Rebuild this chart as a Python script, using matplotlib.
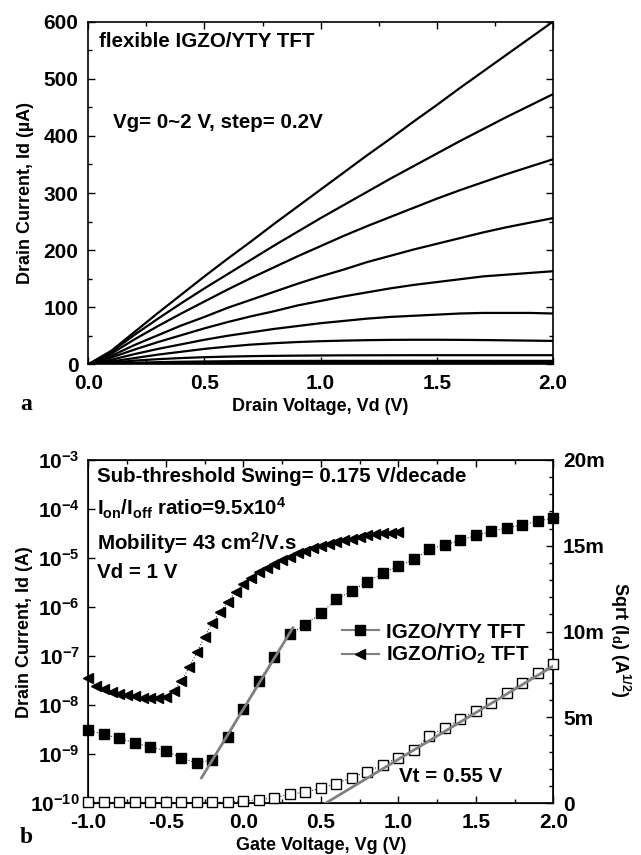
import numpy as np
import matplotlib
matplotlib.use("Agg")
import matplotlib.pyplot as plt
from matplotlib.lines import Line2D
from matplotlib.ticker import MultipleLocator, FuncFormatter, LogLocator

plt.rcParams['font.family'] = ['Liberation Sans', 'DejaVu Sans']
plt.rcParams['font.weight'] = 'bold'
plt.rcParams['mathtext.fontset'] = 'custom'
plt.rcParams['mathtext.rm'] = 'Liberation Sans:bold'
plt.rcParams['mathtext.it'] = 'Liberation Sans:bold'
plt.rcParams['mathtext.bf'] = 'Liberation Sans:bold'
plt.rcParams['mathtext.default'] = 'rm'

# ---- panel a: output curves, Vg = 0..2 V step 0.2 V (uA) ----
vd = [0.0, 0.1, 0.2, 0.3, 0.4, 0.5, 0.6, 0.7, 0.8, 0.9, 1.0,
      1.1, 1.2, 1.3, 1.4, 1.5, 1.6, 1.7, 1.8, 1.9, 2.0]
id_vg20 = [0, 24, 57, 90, 122, 154, 185, 215, 246, 276, 306,
           336, 366, 395, 425, 454, 484, 513, 542, 571, 600]
id_vg18 = [0, 22, 52, 80, 107, 133, 158, 183, 208, 232, 256,
           279, 302, 325, 347, 369, 391, 412, 433, 453, 473]
id_vg16 = [0, 19, 44, 67, 89, 110, 131, 151, 170, 189, 207,
           225, 242, 258, 274, 290, 305, 319, 333, 346, 359]
id_vg14 = [0, 15, 34, 51, 68, 83, 99, 113, 127, 141, 154,
           166, 179, 190, 201, 211, 221, 231, 240, 248, 256]
id_vg12 = [0, 12, 26, 39, 51, 63, 74, 84, 93, 103, 111,
           119, 126, 133, 139, 144, 149, 154, 157, 160, 163]
id_vg10 = [0, 8, 18, 27, 35, 43, 50, 56, 62, 67, 72,
           76, 80, 83, 85, 87, 89, 90, 90, 90, 89]
id_vg08 = [0, 5, 11, 17, 22, 27, 31, 34.5, 37, 39, 40.5,
           41.5, 42.3, 42.8, 43, 43, 42.8, 42.5, 42, 41.5, 41]
id_vg06 = [0, 3, 6.5, 9, 11, 12.5, 13.5, 14.3, 14.8, 15.2, 15.5,
           15.7, 15.8, 15.9, 16, 16, 16, 16, 16, 16, 16]
id_vg04 = [0, 1.3, 2.8, 3.8, 4.5, 5, 5.4, 5.7, 5.8, 5.9, 6,
           6, 6, 6, 6, 6, 6, 6, 6, 6, 6]
id_vg02 = [0, 0.6, 1.3, 1.8, 2.2, 2.5, 2.6, 2.7, 2.8, 2.8, 2.8,
           2.8, 2.8, 2.8, 2.8, 2.8, 2.8, 2.8, 2.8, 2.8, 2.8]
id_vg00 = [0, 0.1, 0.2, 0.3, 0.4, 0.5, 0.5, 0.5, 0.5, 0.5, 0.5,
           0.5, 0.5, 0.5, 0.5, 0.5, 0.5, 0.5, 0.5, 0.5, 0.5]
output_curves = [id_vg00, id_vg02, id_vg04, id_vg06, id_vg08, id_vg10,
                 id_vg12, id_vg14, id_vg16, id_vg18, id_vg20]

# ---- panel b: transfer curves ----
vg_yty = [-1.0, -0.9, -0.8, -0.7, -0.6, -0.5, -0.4, -0.3, -0.2, -0.1, 0.0,
          0.1, 0.2, 0.3, 0.4, 0.5, 0.6, 0.7, 0.8, 0.9, 1.0,
          1.1, 1.2, 1.3, 1.4, 1.5, 1.6, 1.7, 1.8, 1.9, 2.0]
id_yty = [3.1e-9, 2.55e-9, 2.1e-9, 1.7e-9, 1.4e-9, 1.18e-9, 8.3e-10, 6.6e-10, 7.7e-10, 2.2e-9, 8.5e-9,
          3.1e-8, 9.8e-8, 2.8e-7, 4.4e-7, 7.5e-7, 1.43e-6, 2.15e-6, 3.3e-6, 4.9e-6, 6.9e-6,
          9.4e-6, 1.5e-5, 1.88e-5, 2.3e-5, 2.9e-5, 3.5e-5, 4.1e-5, 4.8e-5, 5.6e-5, 6.6e-5]
sqrt_yty = [0.00008, 0.00005, 0.00005, 0.00005, 0.00005, 0.00005, 0.00005, 0.00005, 0.00005, 0.00008, 0.00014,
            0.0002, 0.00033, 0.00052, 0.00066, 0.00087, 0.00115, 0.0015, 0.00185, 0.00223, 0.00266,
            0.0031, 0.00394, 0.0044, 0.0049, 0.00538, 0.00586, 0.00645, 0.00703, 0.00757, 0.00812]

vg_tio2 = [-1.0, -0.95, -0.9, -0.85, -0.8, -0.75, -0.7, -0.65, -0.6, -0.55, -0.5,
           -0.45, -0.4, -0.35, -0.3, -0.25, -0.2, -0.15, -0.1, -0.05, 0.0,
           0.05, 0.1, 0.15, 0.2, 0.25, 0.3, 0.35, 0.4, 0.45, 0.5,
           0.55, 0.6, 0.65, 0.7, 0.75, 0.8, 0.85, 0.9, 0.95, 1.0]
id_tio2 = [3.6e-8, 2.45e-8, 2.1e-8, 1.87e-8, 1.73e-8, 1.65e-8, 1.53e-8, 1.43e-8, 1.37e-8, 1.37e-8, 1.48e-8,
           1.96e-8, 3.1e-8, 5.9e-8, 1.19e-7, 2.5e-7, 4.8e-7, 8.0e-7, 1.29e-6, 2.06e-6, 2.95e-6,
           4.0e-6, 5.3e-6, 6.2e-6, 7.5e-6, 9.1e-6, 1.06e-5, 1.25e-5, 1.39e-5, 1.57e-5, 1.76e-5,
           1.93e-5, 2.15e-5, 2.33e-5, 2.5e-5, 2.72e-5, 2.95e-5, 3.1e-5, 3.2e-5, 3.3e-5, 3.4e-5]

# fitted lines
ss_fit_x = [-0.27, 0.32]
ss_fit_y = [3.3e-10, 3.8e-7]
vt_fit_x = [0.53, 2.0]
vt_fit_y = [0.0, 0.0080]

fig = plt.figure(figsize=(6.41, 8.55), dpi=100)
ax1 = fig.add_axes([0.1378, 0.5739, 0.7247, 0.4007])
ax2 = fig.add_axes([0.1378, 0.0605, 0.7254, 0.4015])

tickfs = 15
textfs = 14.8
labfs = 13

# panel a
for cur in output_curves:
    ax1.plot(vd, cur, color='black', lw=1.6)
ax1.set_xlim(0, 2.0)
ax1.set_ylim(0, 600)
ax1.xaxis.set_major_locator(MultipleLocator(0.5))
ax1.xaxis.set_minor_locator(MultipleLocator(0.25))
ax1.yaxis.set_major_locator(MultipleLocator(100))
ax1.yaxis.set_minor_locator(MultipleLocator(50))
ax1.tick_params(which='both', direction='in', top=True, right=True, labelsize=tickfs, width=1)
ax1.tick_params(which='major', length=5)
ax1.tick_params(which='minor', length=3)
ax1.tick_params(axis='x', pad=7)
ax1.tick_params(axis='y', pad=7)
ax1.xaxis.set_major_formatter(FuncFormatter(lambda v, p: '%.1f' % v))
ax1.set_xlabel('Drain Voltage, Vd (V)', fontsize=labfs, fontweight='bold')
ax1.set_ylabel('Drain Current, Id (\u00b5A)', fontsize=labfs, fontweight='bold')
ax1.xaxis.set_label_coords(0.5, -0.098)
ax1.yaxis.set_label_coords(-0.118, 0.5)
ax1.text(0.022, 0.927, 'flexible IGZO/YTY TFT', transform=ax1.transAxes,
         fontsize=textfs, fontweight='bold')
ax1.text(0.053, 0.69, 'Vg= 0~2 V, step= 0.2V', transform=ax1.transAxes,
         fontsize=textfs, fontweight='bold')
for sp in ax1.spines.values():
    sp.set_linewidth(1.2)

# panel b, left log axis
ax2.plot(vg_yty, id_yty, color='black', ls=(0, (1, 2)), lw=0.7,
         marker='s', ms=7.5, mfc='black', mec='black', clip_on=False, zorder=3)
ax2.plot(vg_tio2, id_tio2, color='black', ls=(0, (1, 2)), lw=0.7,
         marker='<', ms=7, mfc='black', mec='black', clip_on=False, zorder=3)
ax2.plot(ss_fit_x, ss_fit_y, color='#808080', lw=2, zorder=4)
ax2.set_yscale('log')
ax2.set_xlim(-1.0, 2.0)
ax2.set_ylim(1e-10, 1e-3)
ax2.yaxis.set_major_locator(LogLocator(base=10, numticks=10))
ax2.yaxis.set_minor_locator(LogLocator(base=10, subs=[], numticks=10))
ax2.xaxis.set_major_locator(MultipleLocator(0.5))
ax2.xaxis.set_minor_locator(MultipleLocator(0.25))
ax2.xaxis.set_major_formatter(FuncFormatter(lambda v, p: '%.1f' % v))
ax2.tick_params(which='both', direction='in', top=True, labelsize=tickfs, width=1)
ax2.tick_params(which='major', length=5)
ax2.tick_params(which='minor', length=3)
ax2.tick_params(axis='x', pad=7)
ax2.tick_params(axis='y', pad=6)
ax2.set_xlabel('Gate Voltage, Vg (V)', fontsize=labfs, fontweight='bold')
ax2.set_ylabel('Drain Current, Id (A)', fontsize=labfs, fontweight='bold')
ax2.xaxis.set_label_coords(0.5, -0.098)
ax2.yaxis.set_label_coords(-0.118, 0.5)
for sp in ax2.spines.values():
    sp.set_linewidth(1.2)

# right sqrt axis
ax3 = ax2.twinx()
ax3.plot(vg_yty, sqrt_yty, color='black', ls=(0, (1, 2)), lw=0.7,
         marker='s', ms=7, mfc='white', mec='black', mew=1, clip_on=False, zorder=3)
ax3.plot(vt_fit_x, vt_fit_y, color='#808080', lw=2, zorder=4)
ax3.set_ylim(0, 0.02)
ax3.yaxis.set_major_locator(MultipleLocator(0.005))
ax3.yaxis.set_minor_locator(MultipleLocator(0.001))
ax3.yaxis.set_major_formatter(FuncFormatter(lambda v, p: '0' if v == 0 else '%dm' % round(v * 1000)))
ax3.tick_params(which='both', direction='in', labelsize=tickfs, width=1, pad=7)
ax3.tick_params(which='major', length=5)
ax3.tick_params(which='minor', length=3)
ax3.set_ylabel('Sqrt (I$_d$) (A$^{1/2}$)', fontsize=labfs, fontweight='bold', rotation=270)
ax3.yaxis.set_label_coords(1.17, 0.476)

ax2.text(0.019, 0.937, 'Sub-threshold Swing= 0.175 V/decade', transform=ax2.transAxes,
         fontsize=textfs, fontweight='bold')
ax2.text(0.019, 0.837, 'I$_{on}$/I$_{off}$ ratio=9.5x10$^4$', transform=ax2.transAxes,
         fontsize=textfs, fontweight='bold')
ax2.text(0.019, 0.738, 'Mobility= 43 cm$^2$/V.s', transform=ax2.transAxes,
         fontsize=textfs, fontweight='bold')
ax2.text(0.019, 0.655, 'Vd = 1 V', transform=ax2.transAxes,
         fontsize=textfs, fontweight='bold')
ax3.text(0.669, 0.063, 'Vt = 0.55 V', transform=ax2.transAxes,
         fontsize=textfs, fontweight='bold')

handles = [Line2D([], [], color='#808080', lw=1.5, marker='s', ms=7.5, mfc='black', mec='black'),
           Line2D([], [], color='#808080', lw=1.5, marker='<', ms=7, mfc='black', mec='black')]
ax3.legend(handles, ['IGZO/YTY TFT', 'IGZO/TiO$_2$ TFT'], loc='upper left',
           bbox_to_anchor=(0.505, 0.58), frameon=False, handlelength=1.8,
           handletextpad=0.35, labelspacing=0.1, prop={'size': textfs, 'weight': 'bold'})

fig.text(20 / 641, 1 - 410 / 855, 'a', fontsize=17, fontweight='bold', family='Liberation Serif')
fig.text(20 / 641, 1 - 843 / 855, 'b', fontsize=17, fontweight='bold', family='Liberation Serif')

fig.savefig('out.png', dpi=100)
